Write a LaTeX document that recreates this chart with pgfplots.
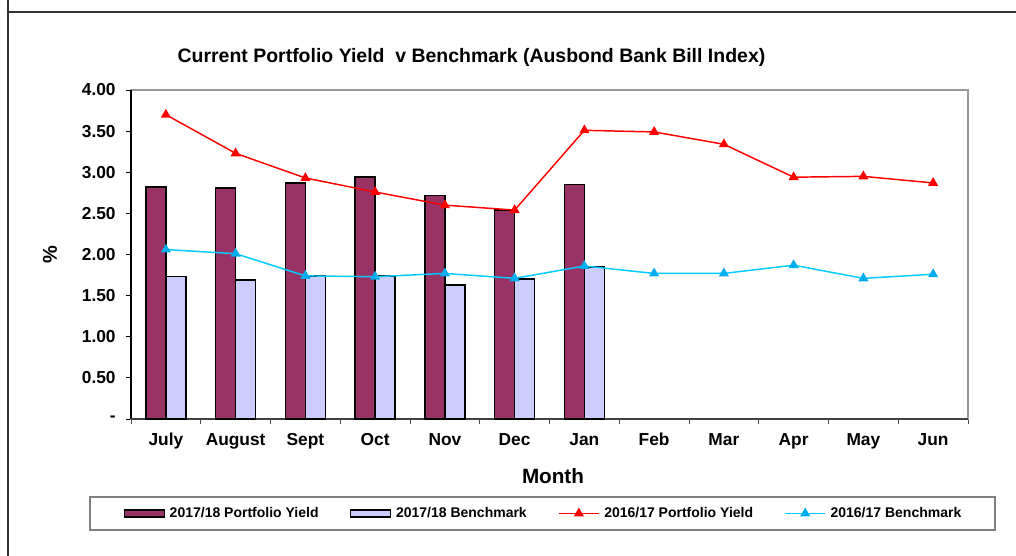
\documentclass[border=0pt]{standalone}
\usepackage{pgfplots}
\pgfplotsset{compat=1.18}
\usepackage{fontspec}
\setmainfont{Liberation Sans}
\definecolor{plum}{RGB}{153,51,102}
\definecolor{lav}{RGB}{204,204,255}
\definecolor{cyanline}{RGB}{0,204,255}
\pgfplotsset{
  barleg/.style={legend image code/.code={\draw[##1] (0pt,-2.6pt) rectangle (30pt,2.6pt);}},
  lineleg/.style={legend image code/.code={\draw[##1, mark=none] (0pt,0pt) -- (30pt,0pt); \draw[##1] plot coordinates {(15pt,0pt)};}},
}
\begin{document}
\begin{tikzpicture}[x=1pt,y=1pt]
\path[use as bounding box] (0,0) rectangle (762,417);
\draw[line width=1.6pt, black!80] (6,417) -- (6,0);
\draw[line width=1.6pt, black!80] (5.2,408) -- (762,408);
\node[font=\bfseries\fontsize{14.6}{17}\selectfont] at (353.6,374.25) {Current Portfolio Yield\ \ v Benchmark (Ausbond Bank Bill Index)};
\node[font=\bfseries\fontsize{15.5}{18}\selectfont] at (414.75,60) {Month};
\node[font=\bfseries\fontsize{15}{17}\selectfont, rotate=90] at (37.5,225.75) {\%};
\draw[gray, line width=0.8pt] (67.5,19.5) rectangle (746.25,44.25);
\begin{axis}[
  at={(98.25pt,102.75pt)}, anchor=south west, scale only axis,
  width=627.75pt, height=246.75pt,
  xmin=-0.5, xmax=11.5, ymin=0, ymax=4,
  xtick={0,...,11},
  xticklabels={July,August,Sept,Oct,Nov,Dec,Jan,Feb,Mar,Apr,May,Jun},
  major x tick style={draw=none},
  minor xtick={-0.5,0.5,...,11.5},
  minor x tick style={black!70, line width=0.6pt},
  minor tick length=4pt,
  xtick pos=bottom, ytick pos=left,
  ytick={0,0.5,...,4},
  yticklabels={-\hspace{10pt},0.50,1.00,1.50,2.00,2.50,3.00,3.50,4.00},
  ytick style={black, line width=0.6pt},
  major tick length=4pt,
  tick align=outside,
  tick label style={font=\bfseries\fontsize{13}{15}\selectfont},
  xticklabel style={yshift=-3pt, text height=9.5pt, text depth=0pt},
  yticklabel style={xshift=-4pt},
  axis line style={draw=gray!80, line width=0.8pt},
  clip=false,
  legend columns=4,
  legend style={at={(0.4928,-0.287)}, anchor=center, draw=none, fill=none,
    font=\bfseries\fontsize{10.5}{12}\selectfont,
    nodes={inner sep=1.5pt},
    /tikz/every odd column/.append style={column sep=2pt},
    /tikz/every even column/.append style={column sep=22pt}},
  legend cell align=left,
]
\draw[black, line width=0.9pt] (rel axis cs:0,0) -- (rel axis cs:0,1);
\draw[black!75, line width=0.9pt] (rel axis cs:0,0) -- (rel axis cs:1,0);
\addplot[ybar, bar width=15pt, bar shift=-7.5pt, fill=plum, draw=black, line width=1.1pt, barleg]
  coordinates {(0,2.82) (1,2.81) (2,2.87) (3,2.94) (4,2.72) (5,2.54) (6,2.85)};
\addplot[ybar, bar width=15pt, bar shift=7.5pt, fill=lav, draw=black, line width=1.1pt, barleg]
  coordinates {(0,1.73) (1,1.69) (2,1.74) (3,1.74) (4,1.63) (5,1.70) (6,1.85)};
\addplot[red, line width=1.1pt, mark=triangle*, mark size=3.3pt, mark options={fill=red, solid}, lineleg]
  coordinates {(0,3.70) (1,3.23) (2,2.93) (3,2.76) (4,2.60) (5,2.54) (6,3.51) (7,3.49) (8,3.34) (9,2.94) (10,2.95) (11,2.87)};
\addplot[cyanline, line width=1.1pt, mark=triangle*, mark size=3.3pt, mark options={fill=cyan, draw=cyan, solid}, lineleg]
  coordinates {(0,2.06) (1,2.01) (2,1.74) (3,1.73) (4,1.77) (5,1.71) (6,1.86) (7,1.77) (8,1.77) (9,1.87) (10,1.71) (11,1.76)};
\legend{2017/18 Portfolio Yield, 2017/18 Benchmark, 2016/17 Portfolio Yield, 2016/17 Benchmark}
\end{axis}
\end{tikzpicture}
\end{document}
